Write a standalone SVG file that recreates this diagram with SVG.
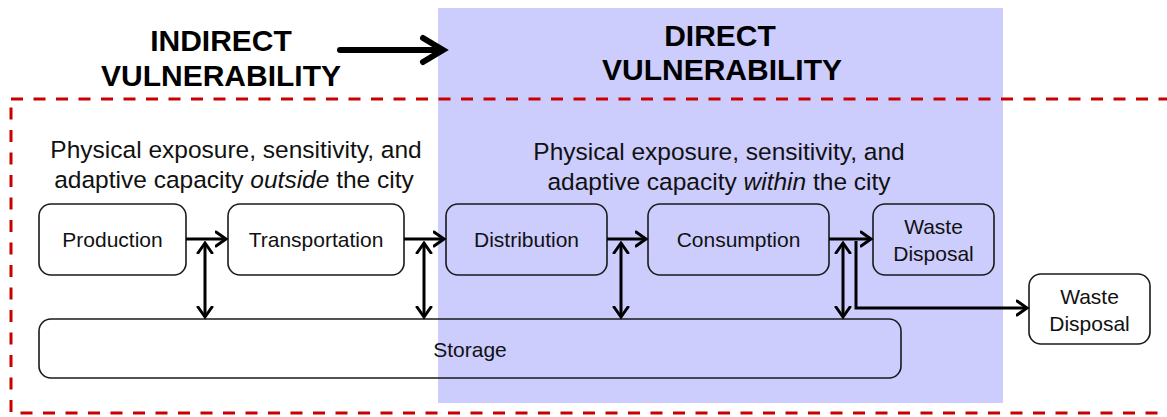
<svg xmlns="http://www.w3.org/2000/svg" width="1167" height="417" viewBox="0 0 1167 417">
<defs>
<style>
.head{font-family:"Liberation Sans",Arial,sans-serif;font-weight:bold;font-size:30px;fill:#000;text-anchor:middle}
.cap{font-family:"Liberation Sans",Arial,sans-serif;font-size:24.5px;fill:#111;text-anchor:middle}
.lbl{font-family:"Liberation Sans",Arial,sans-serif;font-size:21px;fill:#111;text-anchor:middle}
.box{fill:none;stroke:#1a1a1a;stroke-width:1.6}
.con{fill:none;stroke:#000;stroke-width:3}
</style>
<marker id="ah" markerUnits="userSpaceOnUse" markerWidth="16" markerHeight="18" refX="11" refY="8" orient="auto-start-reverse" viewBox="0 0 16 16">
<path d="M1,1 L11,8 L1,15" fill="none" stroke="#000" stroke-width="3" stroke-linecap="round" stroke-linejoin="miter"/>
</marker>
</defs>
<rect x="0" y="0" width="1167" height="417" fill="#fff"/>
<rect id="direct-zone" x="438" y="8" width="565" height="395" fill="#ccccfd"/>
<rect id="boundary" x="11" y="99" width="1170" height="314" fill="none" stroke="#c80000" stroke-width="3" stroke-dasharray="12 10.5"/>
<g id="headings">
<text class="head" x="221" y="51">INDIRECT</text>
<text class="head" x="221" y="86">VULNERABILITY</text>
<text class="head" x="720" y="46">DIRECT</text>
<text class="head" x="722" y="80">VULNERABILITY</text>
<path d="M340,50 L440,50" stroke="#000" stroke-width="6" stroke-linecap="round"/>
<path d="M423,38 L443,50 L423,62" fill="none" stroke="#000" stroke-width="6" stroke-linecap="round" stroke-linejoin="miter"/>
</g>
<g id="captions">
<text class="cap" x="236" y="158">Physical exposure, sensitivity, and</text>
<text class="cap" x="234" y="188">adaptive capacity <tspan font-style="italic">outside</tspan> the city</text>
<text class="cap" x="719" y="160">Physical exposure, sensitivity, and</text>
<text class="cap" x="719" y="190">adaptive capacity <tspan font-style="italic">within</tspan> the city</text>
</g>
<g id="production"><rect class="box" x="39" y="204" width="147" height="71" rx="12"/><text class="lbl" x="112.5" y="247">Production</text></g>
<g id="transportation"><rect class="box" x="228" y="204" width="176" height="71" rx="12"/><text class="lbl" x="316" y="247">Transportation</text></g>
<g id="distribution"><rect class="box" x="446" y="204" width="161" height="71" rx="12"/><text class="lbl" x="526.5" y="247">Distribution</text></g>
<g id="consumption"><rect class="box" x="648" y="204" width="181" height="71" rx="12"/><text class="lbl" x="738.5" y="247">Consumption</text></g>
<g id="waste-inner"><rect class="box" x="873" y="204" width="121" height="71" rx="12"/><text class="lbl" x="933.5" y="234">Waste</text><text class="lbl" x="933.5" y="261">Disposal</text></g>
<g id="waste-outer"><rect class="box" x="1029" y="274" width="121" height="70" rx="12"/><text class="lbl" x="1089.5" y="304">Waste</text><text class="lbl" x="1089.5" y="331">Disposal</text></g>
<g id="storage"><rect class="box" x="39" y="319" width="862" height="59" rx="12"/><text class="lbl" x="470" y="357">Storage</text></g>
<g id="connectors">
<path class="con" d="M186,239 L226,239" marker-end="url(#ah)"/>
<path class="con" d="M404,239 L444,239" marker-end="url(#ah)"/>
<path class="con" d="M607,239 L646,239" marker-end="url(#ah)"/>
<path class="con" d="M829,239 L871,239" marker-end="url(#ah)"/>
<path class="con" d="M205,243 L205,317" marker-start="url(#ah)" marker-end="url(#ah)"/>
<path class="con" d="M424,243 L424,317" marker-start="url(#ah)" marker-end="url(#ah)"/>
<path class="con" d="M621,243 L621,317" marker-start="url(#ah)" marker-end="url(#ah)"/>
<path class="con" d="M843,243 L843,317" marker-start="url(#ah)" marker-end="url(#ah)"/>
<path class="con" d="M856,241 L856,308 L1027,308" marker-end="url(#ah)"/>
</g>
</svg>
